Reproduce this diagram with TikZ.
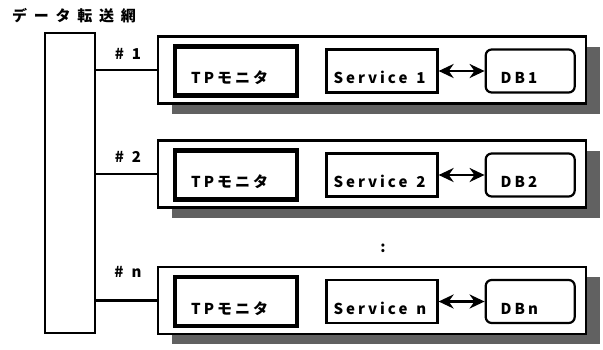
\documentclass[tikz,border=0pt]{standalone}
\usepackage{fontspec}
\setmainfont{Noto Sans CJK JP}[LetterSpace=20]
\newfontfamily\titlefont{Noto Sans CJK JP}[LetterSpace=45]
\usepackage{tikz}
\usetikzlibrary{arrows.meta, positioning, shadows}
\tikzset{
  netbox/.style  = {rectangle, draw, line width=2.2pt, minimum width=50pt,
                    minimum height=300pt},
  hostbox/.style = {rectangle, draw, line width=2.2pt, fill=white,
                    minimum width=428pt, minimum height=67pt,
                    drop shadow={shadow xshift=14pt, shadow yshift=-10pt,
                                 fill=black!62, opacity=1}},
  tpbox/.style   = {rectangle, draw, line width=4.5pt, minimum width=122pt,
                    minimum height=49pt, inner xsep=16pt, inner ysep=0pt,
                    text width=90pt, align=left, text height=25pt,
                    text depth=0pt, font=\boxfont},
  svcbox/.style  = {rectangle, draw, line width=2.2pt, minimum width=111pt,
                    minimum height=43pt, inner xsep=7pt, inner ysep=0pt,
                    text width=97pt, align=left, text height=25pt,
                    text depth=0pt, font=\boxfont},
  dbbox/.style   = {rectangle, rounded corners=6pt, draw, line width=2.2pt,
                    minimum width=89pt, minimum height=43pt, inner xsep=15pt,
                    inner ysep=0pt, text width=59pt, align=left,
                    text height=25pt, text depth=0pt, font=\boxfont},
  link/.style    = {line width=2.2pt},
  biflow/.style  = {{Stealth[length=15pt,width=14pt]}-{Stealth[length=15pt,width=14pt]},
                    line width=2.6pt},
  tag/.style     = {font=\boxfont, inner sep=0pt},
}
\newcommand{\boxfont}{\bfseries\fontsize{15}{16}\selectfont}

\begin{document}
\begin{tikzpicture}[x=1pt, y=-1pt]
  \useasboundingbox (0,0) rectangle (603,349);

  \node[anchor=west, inner sep=0pt, font=\titlefont\bfseries\fontsize{15}{16}\selectfont]
    (title) at (12,16) {データ転送網};
  \node[netbox] (net) at (70,183) {};

  \foreach \i/\y/\n/\ly in {1/70/1/54, 2/174/2/157, 3/300.5/n/272} {
    \node[hostbox] (row\i) at (372,\y) {};
    \node[tpbox, right=16pt of row\i.west, yshift=-1pt] (tp\i) {TPモニタ};
    \node[svcbox, right=26pt of tp\i] (svc\i) {Service\hspace{9pt}\n};
    \node[dbbox, right=46pt of svc\i] (db\i) {DB\n};
    \draw[link] (net.east |- row\i.west) -- (row\i.west);
    \draw[biflow] (svc\i) -- (db\i);
    \node[tag] (num\i) at (128,\ly) {\#\hspace{8pt}\n};
  }

  \node[tag] (dots) at (383,248) {:};
\end{tikzpicture}
\end{document}
